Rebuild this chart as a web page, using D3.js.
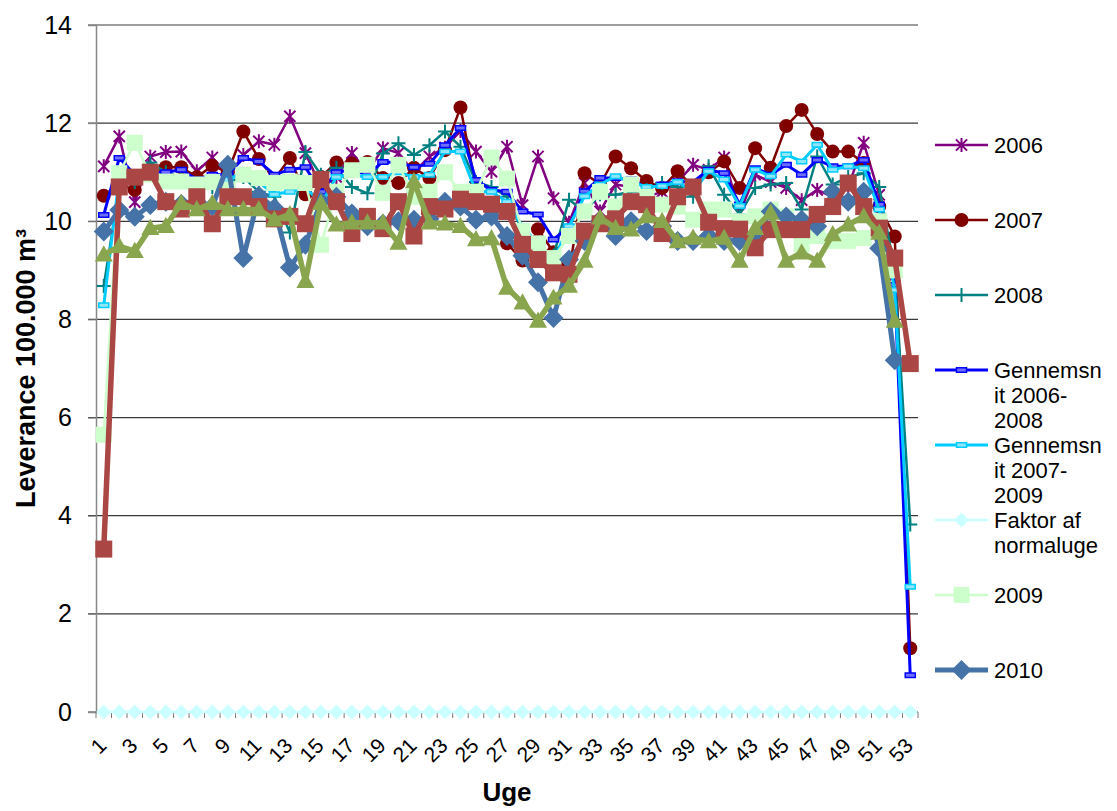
<!DOCTYPE html>
<html>
<head>
<meta charset="utf-8">
<script src="https://cdn.jsdelivr.net/npm/d3@7"></script>
<style>
  body { margin: 0; background: #fff; }
  svg { display: block; }
  text { font-family: "Liberation Sans", Arial, sans-serif; fill: #000; }
</style>
</head>
<body>
<svg id="chart" width="1117" height="811"></svg>
<script>
// Uger 1-53
const weeks = [1,2,3,4,5,6,7,8,9,10,11,12,13,14,15,16,17,18,19,20,21,22,23,24,25,26,27,
  28,29,30,31,32,33,34,35,36,37,38,39,40,41,42,43,44,45,46,47,48,49,50,51,52,53];

const yTicks = [0, 2, 4, 6, 8, 10, 12, 14];
const xTickLabels = [1,3,5,7,9,11,13,15,17,19,21,23,25,27,29,31,33,35,37,39,41,43,45,47,49,51,53];

// Leverance pr. uge (100.000 m³)
const y2006 = [11.12,11.73,10.39,11.32,11.41,11.42,11.02,11.30,10.90,11.35,11.63,11.56,12.14,11.39,10.70,
  10.90,11.39,11.00,11.49,11.39,11.00,11.32,11.50,11.84,11.42,11.01,11.52,10.33,11.32,10.47,9.97,10.78,
  10.20,10.75,10.70,10.50,10.60,10.80,11.15,11.05,11.30,10.17,10.95,10.80,10.68,10.43,10.64,10.50,10.70,
  11.60,10.54,8.90,null];
const y2007 = [10.52,10.75,10.64,11.00,11.10,11.10,10.90,11.13,11.00,11.83,11.27,10.85,11.29,10.55,10.90,
  11.20,11.18,11.21,10.88,10.78,11.09,10.88,11.45,12.32,10.70,10.20,9.55,9.20,9.84,9.37,8.95,10.98,
  10.75,11.32,11.08,10.82,10.68,11.02,10.70,11.00,11.22,10.68,11.49,11.09,11.94,12.27,11.78,11.42,11.42,
  11.19,10.30,9.69,1.30];
const y2008 = [8.68,10.70,10.80,11.20,11.00,10.90,10.70,10.70,10.80,10.90,10.60,10.50,9.77,11.41,10.95,
  11.09,10.70,10.57,11.38,11.59,11.35,11.55,11.83,11.52,10.80,10.70,10.50,9.80,9.50,9.30,10.44,10.20,
  10.55,10.54,10.60,10.64,10.78,10.70,10.50,11.12,10.54,10.14,10.68,10.75,10.78,10.24,11.32,10.75,10.90,
  10.98,10.70,9.00,3.82];
const avg0608 = [10.13,11.29,10.95,11.00,11.00,11.05,10.85,10.95,10.95,11.29,11.22,10.95,11.05,11.10,10.60,
  11.00,11.05,10.95,11.21,11.20,11.10,11.17,11.55,11.90,10.84,10.64,10.60,10.20,10.14,9.63,9.89,10.61,
  10.88,10.88,10.85,10.68,10.75,10.81,10.80,11.05,10.98,10.34,11.08,10.95,11.15,10.95,11.25,11.12,11.12,
  11.25,10.34,8.70,0.75];
const avg0709 = [8.29,10.90,11.00,10.90,10.85,10.90,10.70,10.80,10.85,11.00,10.80,10.55,10.60,10.70,10.35,
  10.90,10.95,10.90,10.90,11.00,10.90,10.95,11.42,11.42,10.60,10.60,10.40,9.90,9.53,9.22,9.90,10.51,
  10.75,10.92,10.80,10.70,10.72,10.80,10.60,11.02,10.85,10.31,11.05,10.92,11.36,11.22,11.56,11.05,11.12,
  11.08,10.24,8.60,2.55];
const faktor = [0,0,0,0,0,0,0,0,0,0,0,0,0,0,0,0,0,0,0,0,0,0,0,0,0,0,0,0,0,0,0,0,0,0,0,0,0,0,0,0,0,0,0,0,0,
  0,0,0,0,0,0,0,0];
const y2009 = [5.65,10.98,11.60,10.95,10.81,10.81,10.75,10.80,10.65,10.95,10.88,10.78,10.81,10.78,9.52,
  10.60,11.04,11.15,10.58,11.15,10.50,10.60,11.00,10.60,10.60,11.30,10.87,9.80,9.55,9.25,9.70,10.20,
  10.60,10.30,10.75,10.50,10.34,10.30,10.03,10.24,10.24,10.00,10.10,10.24,10.10,9.53,9.70,9.60,9.60,
  9.66,10.00,9.00,null];
const y2010 = [9.79,10.23,10.09,10.33,10.40,10.35,10.40,10.30,11.15,9.25,10.52,10.27,9.06,9.52,10.40,
  10.50,10.16,9.90,9.95,10.00,10.03,10.05,10.40,10.30,10.03,10.10,9.70,9.30,8.76,8.03,9.22,9.60,
  10.00,9.70,10.00,9.80,9.90,9.60,9.60,9.70,9.60,9.60,9.65,10.20,10.10,10.03,9.90,10.60,10.40,
  10.60,9.45,7.17,null];
const serieR = [3.32,10.70,10.90,11.00,10.40,10.25,10.50,9.95,10.50,10.50,10.30,10.05,10.10,9.95,10.85,
  10.40,9.75,10.10,9.85,10.40,9.70,10.30,10.25,10.45,10.40,10.35,10.20,9.53,9.22,8.95,8.92,9.80,
  9.95,10.05,10.40,10.34,9.75,10.50,10.70,9.98,9.85,9.84,9.46,9.83,9.83,9.83,10.14,10.30,10.78,
  10.30,9.86,9.25,7.10];
const serieG = [9.32,9.49,9.39,9.86,9.90,10.37,10.24,10.37,10.24,10.24,10.24,10.03,10.14,8.78,10.37,
  9.93,9.97,9.97,9.97,9.56,10.81,9.97,9.95,9.90,9.63,9.65,8.64,8.34,7.97,8.44,8.68,9.19,
  10.07,9.86,9.83,10.10,10.00,9.59,9.66,9.59,9.66,9.19,9.86,10.17,9.19,9.36,9.19,9.73,9.93,
  10.10,9.76,7.97,null];

const legendLabels = [["2006"],["2007"],["2008"],["Gennemsn","it 2006-","2008"],
  ["Gennemsn","it 2007-","2009"],["Faktor af","normaluge"],["2009"],["2010"]];

// Markørformer
const markerPath = {
  star: s => `M0,${-s}V${s}M${-s*0.8},${-s*0.8}L${s*0.8},${s*0.8}M${-s*0.8},${s*0.8}L${s*0.8},${-s*0.8}`,
  plus: s => `M${-s},0H${s}M0,${-s}V${s}`,
  circle: s => `M${s},0A${s},${s} 0 1 1 ${-s},0A${s},${s} 0 1 1 ${s},0Z`,
  square: s => `M${-s},${-s}H${s}V${s}H${-s}Z`,
  diamond: s => `M0,${-s}L${s},0L0,${s}L${-s},0Z`,
  triangle: s => `M0,${-s*1.05}L${s},${s*0.75}L${-s},${s*0.75}Z`,
  dash: s => `M${-s},${-s*0.45}H${s}V${s*0.45}H${-s}Z`
};

const series = [
  { name: "2006", values: y2006, color: "#800080", width: 2.5, marker: "star", size: 7, fill: "none", mstroke: 2 },
  { name: "2007", values: y2007, color: "#800000", width: 2.5, marker: "circle", size: 7, fill: "#800000", mstroke: 0 },
  { name: "2008", values: y2008, color: "#008080", width: 2.5, marker: "plus", size: 7, fill: "none", mstroke: 2 },
  { name: "Gennemsnit 2006-2008", values: avg0608, color: "#0000FF", width: 3, marker: "dash", size: 5, fill: "#6f6fff", mstroke: 1.5 },
  { name: "Gennemsnit 2007-2009", values: avg0709, color: "#00CCFF", width: 3, marker: "dash", size: 5, fill: "#8fe6ff", mstroke: 1.5 },
  { name: "Faktor af normaluge", values: faktor, color: "#CCFFFF", width: 2.5, marker: "diamond", size: 7.5, fill: "#CCFFFF", mstroke: 0 },
  { name: "2009", values: y2009, color: "#CCFFCC", width: 2.5, marker: "square", size: 8, fill: "#CCFFCC", mstroke: 0 },
  { name: "2010", values: y2010, color: "#4572A7", width: 5, marker: "diamond", size: 10, fill: "#4572A7", mstroke: 0 },
  { name: "R", values: serieR, color: "#AA4643", width: 5.5, marker: "square", size: 8.5, fill: "#AA4643", mstroke: 0 },
  { name: "G", values: serieG, color: "#89A54E", width: 5.5, marker: "triangle", size: 9, fill: "#89A54E", mstroke: 0 }
];

const svg = d3.select("#chart");
const plotLeft = 96, plotRight = 918, plotTop = 25, plotBottom = 712;

const x = d3.scaleBand().domain(weeks).range([plotLeft, plotRight]).paddingInner(0).paddingOuter(0);
const cx = w => x(w) + x.bandwidth() / 2;
const y = d3.scaleLinear().domain([0, 14]).range([plotBottom, plotTop]);

// Vandrette gitterlinjer
svg.append("g").selectAll("line").data(yTicks).join("line")
  .attr("x1", plotLeft - 8).attr("x2", plotRight)
  .attr("y1", d => y(d)).attr("y2", d => y(d))
  .attr("stroke", "#3a3a3a").attr("stroke-width", 1.2);

// Y-akse
const yAxis = svg.append("g").attr("transform", `translate(${plotLeft},0)`)
  .call(d3.axisLeft(y).tickValues(yTicks).tickSize(8).tickPadding(16).tickFormat(d3.format("d")));
yAxis.select(".domain").attr("stroke", "#888").attr("stroke-width", 1.5);
yAxis.selectAll(".tick line").attr("stroke", "#888");
yAxis.selectAll(".tick text").attr("font-size", 25).attr("font-family", "Liberation Sans, Arial, sans-serif").attr("fill", "#000");

// X-akse: streger ved kategorigrænserne
const xg = svg.append("g");
xg.append("line").attr("x1", plotLeft).attr("x2", plotRight).attr("y1", plotBottom).attr("y2", plotBottom)
  .attr("stroke", "#888").attr("stroke-width", 1.2);
xg.selectAll("line.tk").data(weeks.concat(["end"])).join("line").attr("class", "tk")
  .attr("x1", d => d === "end" ? plotRight : x(d)).attr("x2", d => d === "end" ? plotRight : x(d))
  .attr("y1", plotBottom).attr("y2", plotBottom + 6)
  .attr("stroke", "#777").attr("stroke-width", 1);
xg.selectAll("text").data(xTickLabels).join("text")
  .attr("transform", d => `translate(${cx(d) + 4},${plotBottom + 35}) rotate(-45)`)
  .attr("text-anchor", "end")
  .attr("font-size", 21)
  .text(d => d);

// Aksetitler
svg.append("text")
  .attr("transform", `translate(35,${(plotTop + plotBottom) / 2}) rotate(-90)`)
  .attr("text-anchor", "middle").attr("font-weight", "bold").attr("font-size", 27)
  .text("Leverance 100.000 m³");
svg.append("text")
  .attr("x", (plotLeft + plotRight) / 2).attr("y", 801)
  .attr("text-anchor", "middle").attr("font-weight", "bold").attr("font-size", 26)
  .text("Uge");

// Dataserier
const line = d3.line().defined(d => d.v != null).x(d => cx(d.w)).y(d => y(d.v));
function drawMarker(sel, s) {
  sel.attr("d", markerPath[s.marker](s.size))
    .attr("fill", s.fill)
    .attr("stroke", s.mstroke > 0 ? s.color : "none")
    .attr("stroke-width", s.mstroke);
}
series.forEach(s => {
  const pts = weeks.map((w, i) => ({ w, v: s.values[i] }));
  const g = svg.append("g");
  g.append("path").datum(pts).attr("d", line)
    .attr("fill", "none").attr("stroke", s.color).attr("stroke-width", s.width)
    .attr("stroke-linejoin", "round");
  g.selectAll("path.m").data(pts.filter(d => d.v != null)).join("path").attr("class", "m")
    .attr("transform", d => `translate(${cx(d.w)},${y(d.v)})`)
    .call(sel => drawMarker(sel, s));
});

// Forklaring
const leg = svg.append("g");
legendLabels.forEach((lines, i) => {
  const s = series[i];
  const ly = 145 + i * 75;
  leg.append("line").attr("x1", 935).attr("x2", 988).attr("y1", ly).attr("y2", ly)
    .attr("stroke", s.color).attr("stroke-width", s.width);
  leg.append("path").attr("transform", `translate(961.5,${ly})`).call(sel => drawMarker(sel, s));
  const t = leg.append("text").attr("x", 994).attr("y", ly + 8).attr("font-size", 22);
  lines.forEach((ln, j) => t.append("tspan").attr("x", 994).attr("dy", j === 0 ? 0 : 25).text(ln));
});
</script>
</body>
</html>
